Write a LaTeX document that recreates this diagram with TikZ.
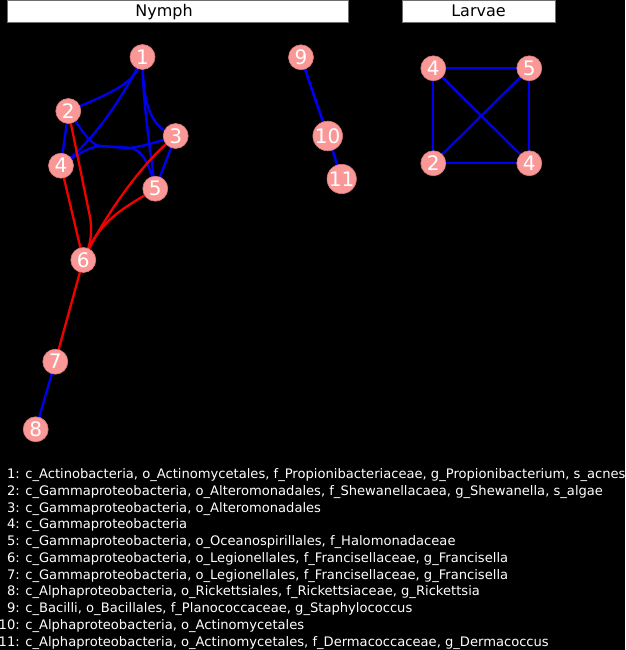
\documentclass[tikz,border=0pt]{standalone}
\usepackage{fontspec}
\setmainfont{DejaVu Sans}
\pgfdeclarelayer{back}
\pgfdeclarelayer{edges}
\pgfsetlayers{back,edges,main}
\definecolor{nodefill}{RGB}{250,152,152}
\definecolor{nodeedge}{RGB}{215,120,120}
\definecolor{edgeblue}{RGB}{0,0,240}
\definecolor{edgered}{RGB}{240,0,0}
\definecolor{boxedge}{RGB}{110,110,110}
\tikzset{
  vnode/.style={circle, fill=nodefill, draw=nodeedge, line width=0.6pt, minimum size=25pt, inner sep=0pt, text=white, font=\fontsize{20}{20}\selectfont},
  bedge/.style={edgeblue, line width=2.3pt},
  redge/.style={edgered, line width=2.3pt},
  titlebox/.style={rectangle, fill=white, draw=boxedge, line width=0.8pt, minimum height=22pt, inner sep=0pt},
  titletext/.style={anchor=base, inner sep=0pt, text=black, font=\fontsize{16}{16}\selectfont},
}
\begin{document}
\begin{tikzpicture}[x=1pt, y=-1pt]
\begin{pgfonlayer}{back}
\fill[black] (0,0) rectangle (625,650);
\end{pgfonlayer}
\useasboundingbox (0,0) rectangle (625,650);
% titles
\node[titlebox, minimum width=341pt] (nymphbox) at (177.5,11) {};
\node[titletext] (nymph) at (164,16.7) {Nymph};
\node[titlebox, minimum width=153pt] (larvaebox) at (479.3,11) {};
\node[titletext] (larvae) at (478.5,16.7) {Larvae};
% nymph nodes
\node[vnode] (n1) at (142.5,57) {1};
\node[vnode] (n2) at (68.3,111) {2};
\node[vnode] (n3) at (175.7,136) {3};
\node[vnode] (n4) at (61,165.7) {4};
\node[vnode] (n5) at (155.3,188.7) {5};
\node[vnode] (n6) at (83.3,260) {6};
\node[vnode] (n7) at (55.3,361.7) {7};
\node[vnode] (n8) at (35.7,429.3) {8};
\node[vnode] (n9) at (301,57.3) {9};
\node[vnode] (n10) at (327.7,136) {10};
\node[vnode] (n11) at (341.7,179) {11};
% larvae nodes
\node[vnode] (l4a) at (433.3,68.3) {4};
\node[vnode] (l5) at (529.3,68.3) {5};
\node[vnode] (l2) at (433.3,163.3) {2};
\node[vnode] (l4b) at (529.3,163.3) {4};
\begin{pgfonlayer}{edges}
% blue nymph edges
\draw[bedge] (n1.center) .. controls (137,80) and (122,89) .. (n2.center);
\draw[bedge] (n1.center) .. controls (125,95) and (92,143) .. (n4.center);
\draw[bedge] (n1.center) .. controls (143,100) and (148,127) .. (n3.center);
\draw[bedge] (n1.center) .. controls (142,95) and (150,150) .. (n5.center);
\draw[bedge] (n2.center) -- (n4.center);
\draw[bedge] (n2.center) .. controls (82,130) and (90,145) .. (100,146) -- (130,148) .. controls (142,149) and (150,165) .. (n5.center);
\draw[bedge] (n4.center) .. controls (75,156) and (88,147) .. (100,146) -- (130,148) .. controls (145,146) and (160,141) .. (n3.center);
\draw[bedge] (n3.center) -- (n5.center);
\draw[bedge] (n7.center) -- (n8.center);
\draw[bedge] (n9.center) -- (n10.center);
\draw[bedge] (n9.center) .. controls (318,108) and (326,128) .. (n11.center);
\draw[bedge] (n10.center) -- (n11.center);
% red nymph edges
\draw[redge] (n2.center) -- (89,212) .. controls (92,225) and (93,242) .. (n6.center);
\draw[redge] (n4.center) -- (n6.center);
\draw[redge] (n3.center) .. controls (150,155) and (110,205) .. (n6.center);
\draw[redge] (n5.center) .. controls (125,208) and (100,218) .. (n6.center);
\draw[redge] (n6.center) -- (n7.center);
% larvae edges
\draw[bedge] (l4a.center) -- (l5.center);
\draw[bedge] (l4a.center) -- (l2.center);
\draw[bedge] (l4a.center) -- (l4b.center);
\draw[bedge] (l5.center) -- (l2.center);
\draw[bedge] (l5.center) -- (l4b.center);
\draw[bedge] (l2.center) -- (l4b.center);
\end{pgfonlayer}
% legend
\node[anchor=north west, inner sep=0pt, text=white, font=\fontsize{13.1}{16.75}\selectfont] (legend) at (-1.5,466.8) {%
\begin{tabular}{@{}r@{ }l@{}}
1: & c\_Actinobacteria, o\_Actinomycetales, f\_Propionibacteriaceae, g\_Propionibacterium, s\_acnes\\
2: & c\_Gammaproteobacteria, o\_Alteromonadales, f\_Shewanellacaea, g\_Shewanella, s\_algae\\
3: & c\_Gammaproteobacteria, o\_Alteromonadales\\
4: & c\_Gammaproteobacteria\\
5: & c\_Gammaproteobacteria, o\_Oceanospirillales, f\_Halomonadaceae\\
6: & c\_Gammaproteobacteria, o\_Legionellales, f\_Francisellaceae, g\_Francisella\\
7: & c\_Gammaproteobacteria, o\_Legionellales, f\_Francisellaceae, g\_Francisella\\
8: & c\_Alphaproteobacteria, o\_Rickettsiales, f\_Rickettsiaceae, g\_Rickettsia\\
9: & c\_Bacilli, o\_Bacillales, f\_Planococcaceae, g\_Staphylococcus\\
10: & c\_Alphaproteobacteria, o\_Actinomycetales\\
11: & c\_Alphaproteobacteria, o\_Actinomycetales, f\_Dermacoccaceae, g\_Dermacoccus
\end{tabular}};
\end{tikzpicture}
\end{document}
